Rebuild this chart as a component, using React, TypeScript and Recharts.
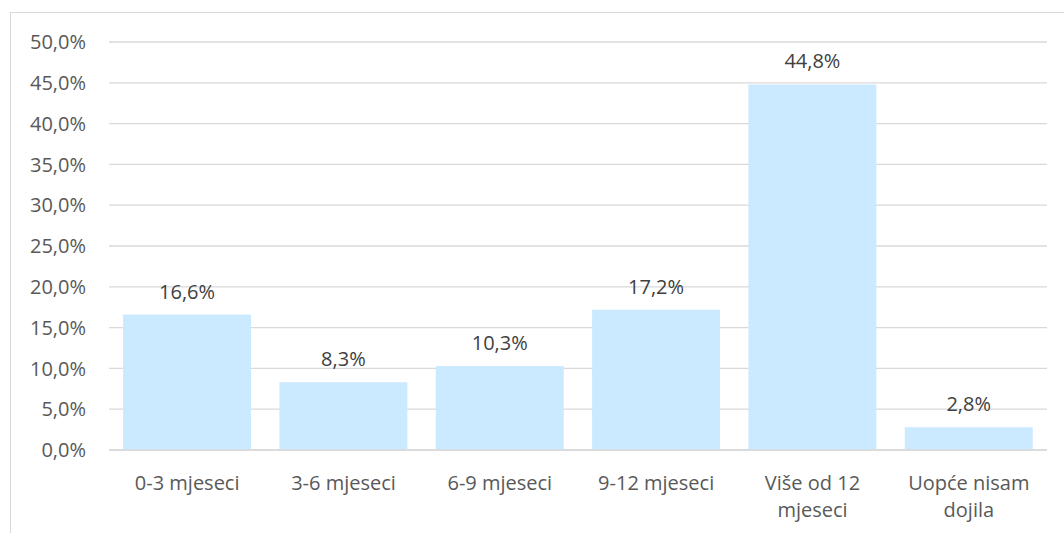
import React from 'react';
import { BarChart, Bar, XAxis, YAxis, CartesianGrid, LabelList } from 'recharts';

const categories = ['0-3 mjeseci', '3-6 mjeseci', '6-9 mjeseci', '9-12 mjeseci', 'Više od 12 mjeseci', 'Uopće nisam dojila'];
const shares = [16.6, 8.3, 10.3, 17.2, 44.8, 2.8];
const yTicks = [0, 5, 10, 15, 20, 25, 30, 35, 40, 45, 50];

const data = categories.map((name, i) => ({ name, value: shares[i] }));

const FONT = '"Open Sans", "Noto Sans", sans-serif';
const pct = (v: number) => v.toFixed(1).replace('.', ',') + '%';

// splits long category names into lines of up to 12 chars, like Excel does
const wrap = (s: string, max = 12) => {
  const lines: string[] = [];
  let cur = '';
  s.split(' ').forEach((w) => {
    const next = cur ? cur + ' ' + w : w;
    if (next.length > max && cur) {
      lines.push(cur);
      cur = w;
    } else {
      cur = next;
    }
  });
  if (cur) lines.push(cur);
  return lines;
};

const CategoryTick = (props: any) => {
  const { x, y, payload } = props;
  const lines = wrap(payload.value);
  return (
    <text x={x} y={y} textAnchor="middle" fill="#595959" fontSize={20} fontFamily={FONT}>
      {lines.map((l, i) => (
        <tspan key={i} x={x} dy={i === 0 ? 40 : 27}>
          {l}
        </tspan>
      ))}
    </text>
  );
};

const App: React.FC = () => {
  return (
    <div style={{ position: 'absolute', left: 0, top: 0, width: 1064, height: 533, background: '#ffffff', overflow: 'hidden' }}>
      <div
        style={{
          position: 'absolute',
          left: 10,
          top: 12,
          width: 1100,
          height: 600,
          border: '1px solid #d9d9d9',
          boxSizing: 'border-box',
        }}
      />
      <div style={{ position: 'absolute', left: 0, top: 0 }}>
        <BarChart
          width={1064}
          height={533}
          data={data}
          margin={{ top: 42, right: 17, bottom: 53, left: 9 }}
          barCategoryGap="9%"
        >
          <CartesianGrid vertical={false} stroke="#d9d9d9" strokeWidth={1.3} />
          <XAxis
            dataKey="name"
            height={30}
            axisLine={{ stroke: '#d9d9d9', strokeWidth: 1.3 }}
            tickLine={false}
            tickSize={0}
            tickMargin={0}
            interval={0}
            tick={<CategoryTick />}
          />
          <YAxis
            width={100}
            domain={[0, 50]}
            ticks={yTicks}
            axisLine={false}
            tickLine={false}
            tickSize={0}
            tickMargin={23}
            tickFormatter={pct}
            tick={{ fill: '#595959', fontSize: 20, fontFamily: FONT }}
          />
          <Bar dataKey="value" fill="#cceaff" isAnimationActive={false}>
            <LabelList
              dataKey="value"
              position="top"
              offset={16}
              formatter={(v: any) => pct(Number(v))}
              fill="#404040"
              fontSize={20}
              fontFamily={FONT}
            />
          </Bar>
        </BarChart>
      </div>
    </div>
  );
};

export default App;
